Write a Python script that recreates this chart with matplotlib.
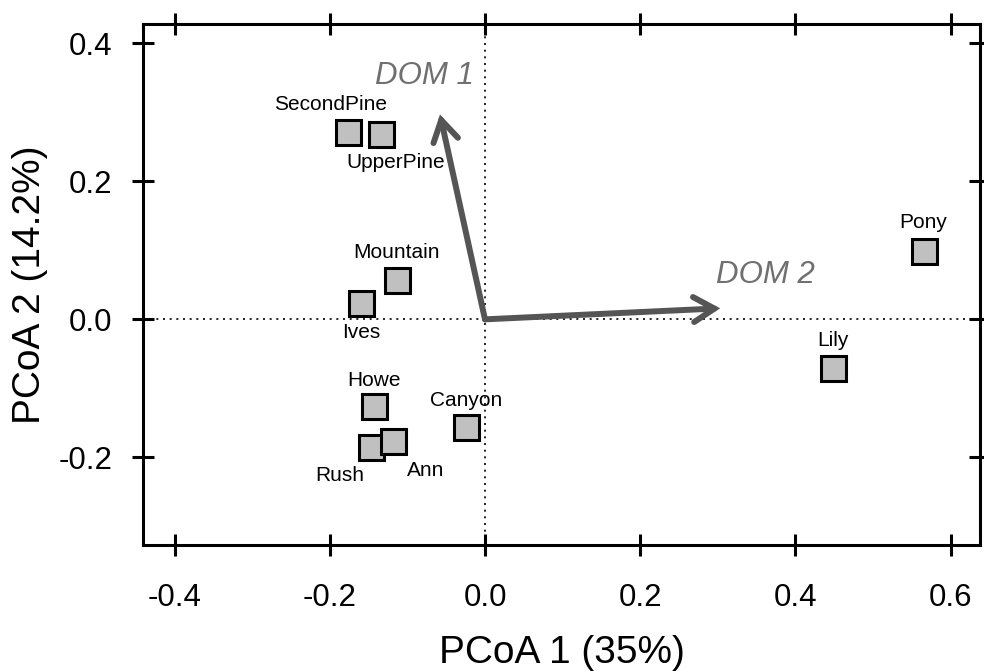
"""
PCoA ordination of lakes with DOM vectors (R base-graphics look).
"""

import matplotlib
matplotlib.use("Agg")
import matplotlib.pyplot as plt

plt.rcParams["font.family"] = ["Liberation Sans", "DejaVu Sans"]

# ---------------------------------------------------------------------
# Data
# ---------------------------------------------------------------------
sites = ["SecondPine", "UpperPine", "Mountain", "Ives", "Howe",
         "Rush", "Ann", "Canyon", "Lily", "Pony"]
pcoa1 = [-0.177, -0.134, -0.114, -0.160, -0.143,
         -0.147, -0.118, -0.024, 0.4485, 0.565]
pcoa2 = [0.272, 0.268, 0.0565, 0.023, -0.126,
         -0.185, -0.176, -0.156, -0.0703, 0.0993]
# label offsets in pixels (dx right, dy up)
label_dx = [-17, 15, 0, 0, 0, -31, 32, 0, 0, 0]
label_dy = [27, -28, 28, -29, 26, -28, -30, 26, 27, 28]

vectors = ["DOM 1", "DOM 2"]
vec_x = [-0.058, 0.303]
vec_y = [0.297, 0.016]
vec_label_x = [-0.0786, 0.361]
vec_label_y = [0.352, 0.064]

xticks = [-0.4, -0.2, 0.0, 0.2, 0.4, 0.6]
yticks = [-0.2, 0.0, 0.2, 0.4]

# ---------------------------------------------------------------------
# Figure
# ---------------------------------------------------------------------
fig = plt.figure(figsize=(9.84, 6.71), dpi=100)
ax = fig.add_axes([143 / 984, 126 / 671, 837 / 984, 521 / 671])

ax.set_xlim(-0.4406, 0.6377)
ax.set_ylim(-0.327, 0.428)

ax.axhline(0, color="black", lw=1.2, ls=(0, (1.2, 2.8)), zorder=1)
ax.axvline(0, color="black", lw=1.2, ls=(0, (1.2, 2.8)), zorder=1)

# DOM vectors
for name, vx, vy, lx, ly in zip(vectors, vec_x, vec_y, vec_label_x, vec_label_y):
    ax.annotate("", xy=(vx, vy), xytext=(0, 0),
                arrowprops=dict(arrowstyle="->,head_length=0.5,head_width=0.3",
                                mutation_scale=30, lw=4.3, color="#555555",
                                shrinkA=0, shrinkB=0, joinstyle="miter"),
                zorder=2)
    ax.text(lx, ly, name, color="#707070", fontsize=22.5, style="italic",
            ha="center", va="center", zorder=2)

# sites
ax.plot(pcoa1, pcoa2, ls="none", marker="s", markersize=18,
        markerfacecolor="#c0c0c0", markeredgecolor="black",
        markeredgewidth=2.2, zorder=3)
for name, x, y, dx, dy in zip(sites, pcoa1, pcoa2, label_dx, label_dy):
    ax.annotate(name, xy=(x, y), xytext=(dx, dy), textcoords="offset pixels",
                ha="center", va="center", fontsize=15, zorder=4)

# axes styling
for side in ["left", "right", "top", "bottom"]:
    ax.spines[side].set_linewidth(2.2)
ax.set_xticks(xticks)
ax.set_yticks(yticks)
ax.set_xticklabels([f"{t:.1f}" for t in xticks])
ax.set_yticklabels([f"{t:.1f}" for t in yticks])
ax.tick_params(axis="both", direction="inout", length=16, width=2.2,
               labelsize=22.5, top=True, right=True)
ax.tick_params(axis="x", pad=19)
ax.tick_params(axis="y", pad=14)

ax.set_xlabel("PCoA 1 (35%)", fontsize=28, va="center")
ax.set_ylabel("PCoA 2 (14.2%)", fontsize=28, va="center")
ax.xaxis.set_label_coords(0.5, -0.2073)
ax.yaxis.set_label_coords(-0.135, 0.5)

fig.savefig("out.png", dpi=100)
